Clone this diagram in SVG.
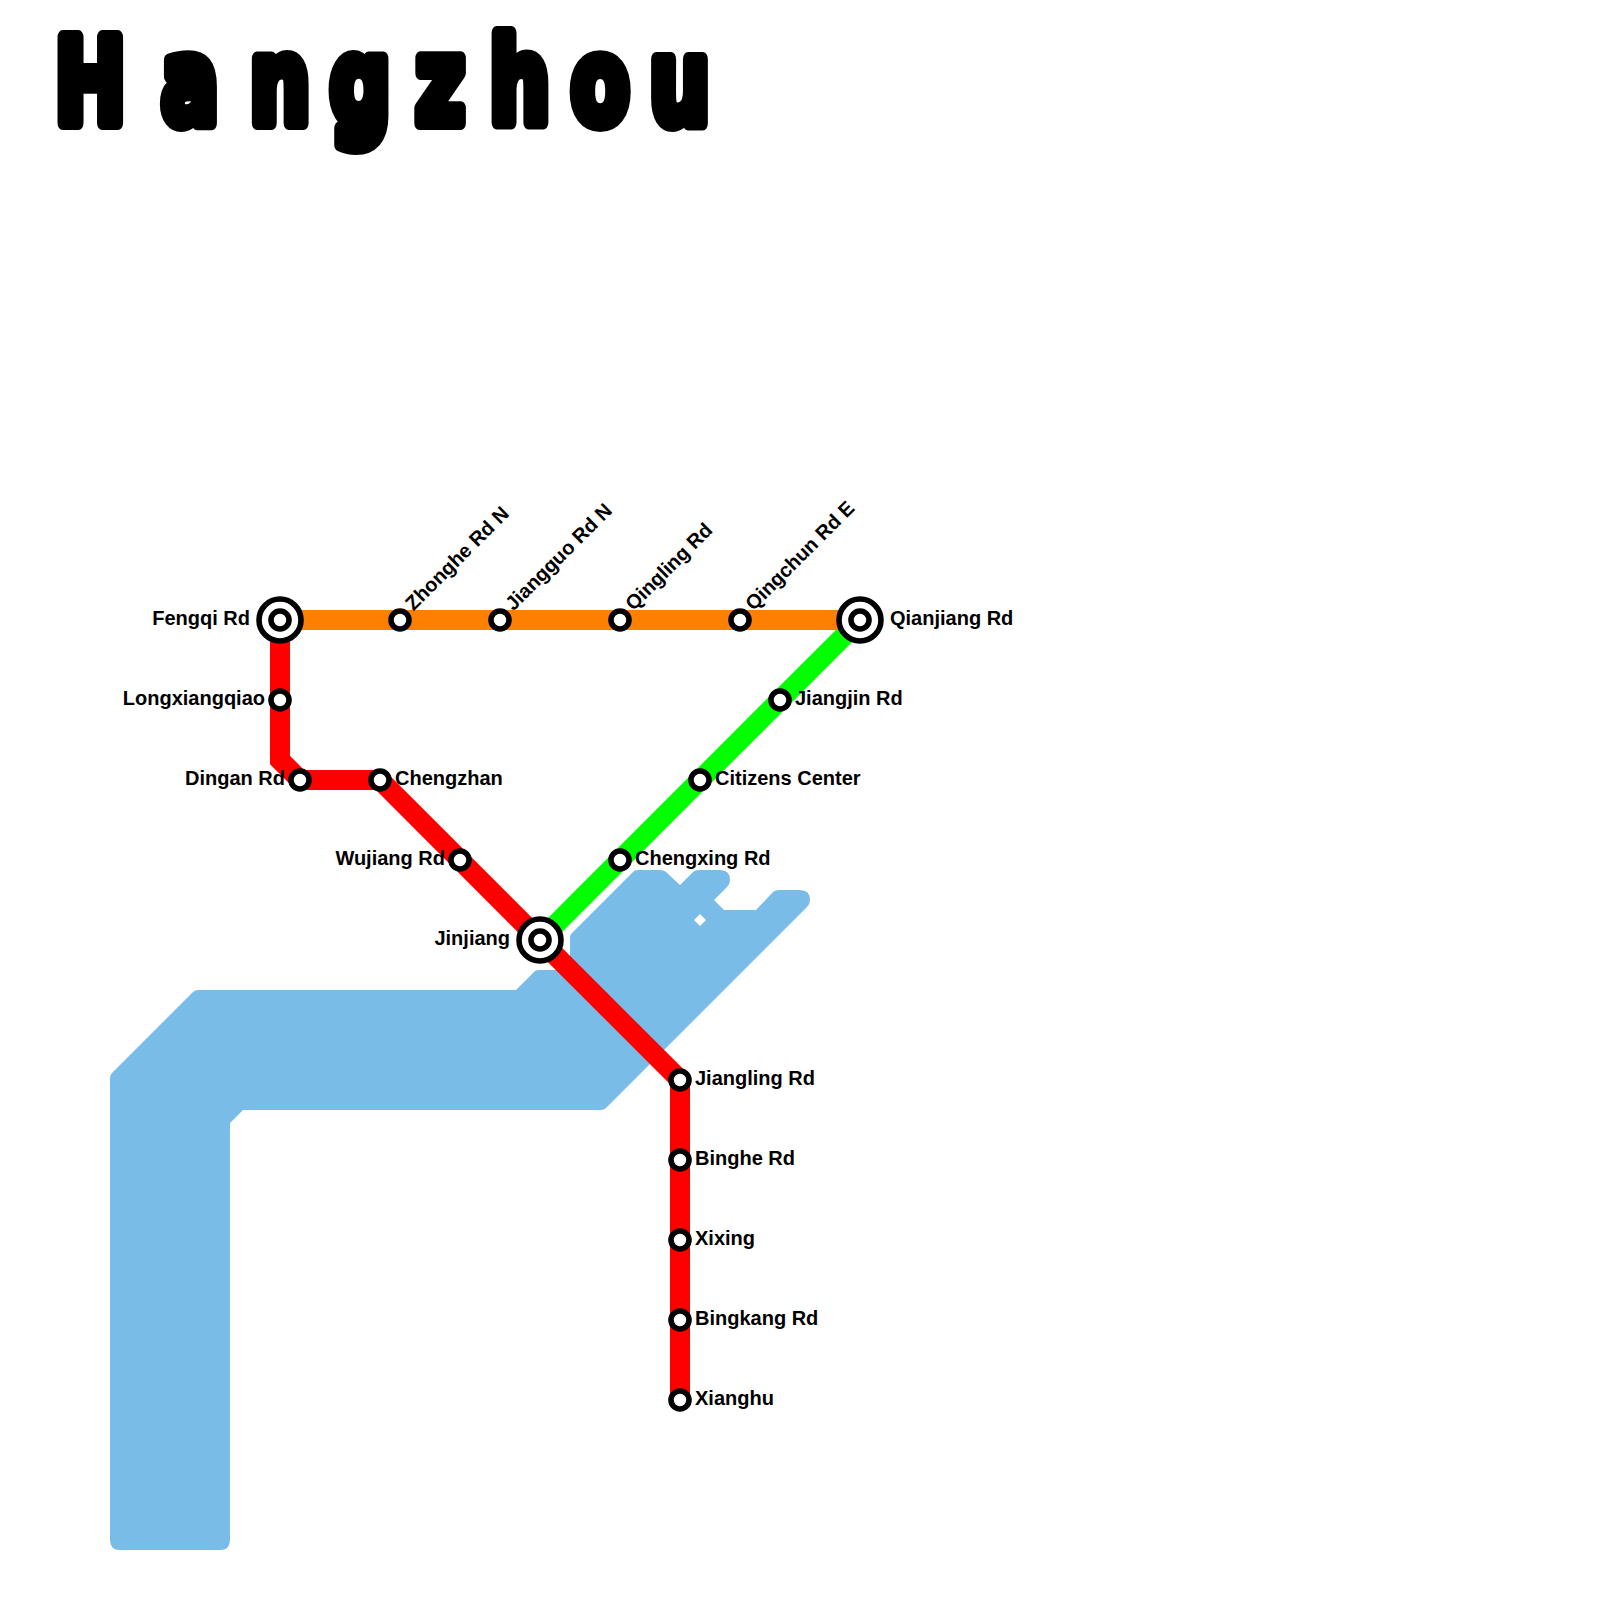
<svg xmlns="http://www.w3.org/2000/svg" width="1600" height="1600" viewBox="0 0 1600 1600">
<style>
.line{fill:none;stroke-width:20;stroke-linejoin:miter}
.st{fill:#fff;stroke:#000;stroke-width:5.6}
.ring{fill:#fff;stroke:#000;stroke-width:5.6}
.lb{font:bold 20px "Liberation Sans",Arial,sans-serif;fill:#000}
.e{text-anchor:end}
.title{font:bold 118px "DejaVu Sans",sans-serif;fill:#000;stroke:#000;stroke-width:14;stroke-linejoin:round}
</style>
<rect width="1600" height="1600" fill="#fff"/>
<text id="title" class="title" transform="translate(0,123) scale(0.72,1)" x="76 224 347 458 577 680 793 902" y="0">Hangzhou</text>
<path id="water" fill="#79bce8" fill-rule="evenodd" d="M110 1078Q110 1075 112 1073L193 992Q195 990 198 990L516 990L535 971Q536 970 540 970L570 970L570 937Q570 935 572 933L634 871Q635 870 640 870L660 870Q664 870 666 872L680 885L693 872Q695 870 700 870L720 870Q730 870 730 880Q730 884 727 887L714 900L724 910L756 910L773 892Q775 890 780 890L800 890Q810 890 810 900Q810 904 807 907L606 1108Q604 1110 600 1110L243 1110L230 1123L230 1540Q230 1550 220 1550L120 1550Q110 1550 110 1540ZM700 914L706 920L700 926L694 920Z"/>
<g id="connectors">
<path class="line" stroke="#00ff00" d="M860 620L540 940"/>
<path class="line" stroke="#ff8000" d="M280 620L860 620"/>
<path class="line" stroke="#ff0000" d="M280 620L280 760L300 780L380 780L680 1080L680 1400"/>
</g>
<g id="fengqi"><circle class="ring" cx="280" cy="620" r="21"/><circle class="st" cx="280" cy="620" r="9"/><text class="lb e" x="250" y="625">Fengqi Rd</text></g>
<g id="longxiangqiao"><circle class="st" cx="280" cy="700" r="9"/><text class="lb e" x="265" y="705">Longxiangqiao</text></g>
<g id="dingan"><circle class="st" cx="300" cy="780" r="9"/><text class="lb e" x="285" y="785">Dingan Rd</text></g>
<g id="chengzhan"><circle class="st" cx="380" cy="780" r="9"/><text class="lb" x="395" y="785">Chengzhan</text></g>
<g id="wujiang"><circle class="st" cx="460" cy="860" r="9"/><text class="lb e" x="445" y="865">Wujiang Rd</text></g>
<g id="jinjiang"><circle class="ring" cx="540" cy="940" r="21"/><circle class="st" cx="540" cy="940" r="9"/><text class="lb e" x="510" y="945">Jinjiang</text></g>
<g id="jiangling"><circle class="st" cx="680" cy="1080" r="9"/><text class="lb" x="695" y="1085">Jiangling Rd</text></g>
<g id="binghe"><circle class="st" cx="680" cy="1160" r="9"/><text class="lb" x="695" y="1165">Binghe Rd</text></g>
<g id="xixing"><circle class="st" cx="680" cy="1240" r="9"/><text class="lb" x="695" y="1245">Xixing</text></g>
<g id="bingkang"><circle class="st" cx="680" cy="1320" r="9"/><text class="lb" x="695" y="1325">Bingkang Rd</text></g>
<g id="xianghu"><circle class="st" cx="680" cy="1400" r="9"/><text class="lb" x="695" y="1405">Xianghu</text></g>
<g id="zhonghe"><circle class="st" cx="400" cy="620" r="9"/><text class="lb" transform="translate(413.5,611.5) rotate(-45)">Zhonghe Rd N</text></g>
<g id="jiangguo"><circle class="st" cx="500" cy="620" r="9"/><text class="lb" transform="translate(513.5,611.5) rotate(-45)">Jiangguo Rd N</text></g>
<g id="qingling"><circle class="st" cx="620" cy="620" r="9"/><text class="lb" transform="translate(633.5,611.5) rotate(-45)">Qingling Rd</text></g>
<g id="qingchun"><circle class="st" cx="740" cy="620" r="9"/><text class="lb" transform="translate(753.5,611.5) rotate(-45)">Qingchun Rd E</text></g>
<g id="qianjiang"><circle class="ring" cx="860" cy="620" r="21"/><circle class="st" cx="860" cy="620" r="9"/><text class="lb" x="890" y="625">Qianjiang Rd</text></g>
<g id="jiangjin"><circle class="st" cx="780" cy="700" r="9"/><text class="lb" x="795" y="705">Jiangjin Rd</text></g>
<g id="citizens"><circle class="st" cx="700" cy="780" r="9"/><text class="lb" x="715" y="785">Citizens Center</text></g>
<g id="chengxing"><circle class="st" cx="620" cy="860" r="9"/><text class="lb" x="635" y="865">Chengxing Rd</text></g>
</svg>
